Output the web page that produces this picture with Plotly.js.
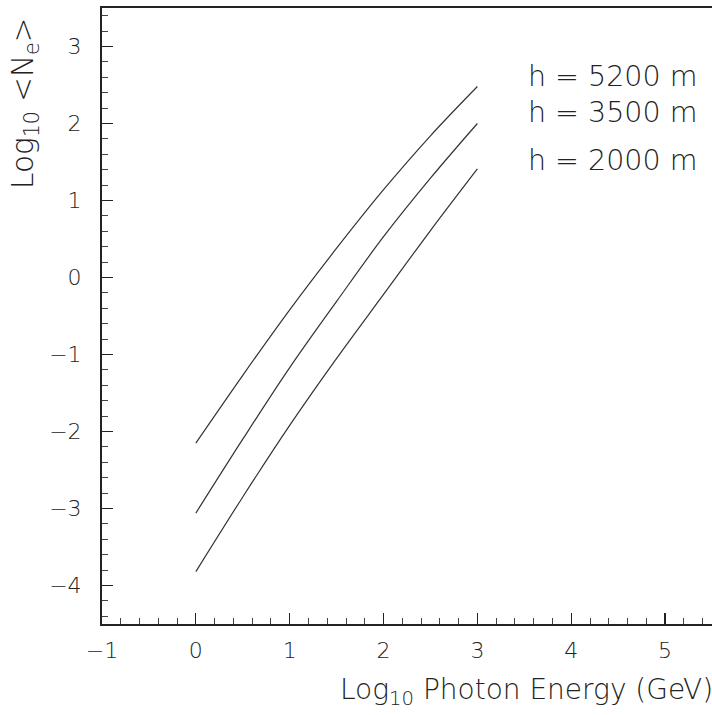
<!DOCTYPE html>
<html>
<head>
<meta charset="utf-8">
<script src="https://cdn.plot.ly/plotly-3.0.1.min.js"></script>
<style>html,body{margin:0;padding:0;background:#fff;}#chart{width:712px;height:715px;}</style>
</head>
<body>
<div id="chart"></div>
<script>
const energyLog = [0, 0.5, 1, 1.5, 2, 2.5, 3];
const ne5200 = [-2.15, -1.27, -0.42, 0.38, 1.14, 1.84, 2.48];
const ne3500 = [-3.06, -2.10, -1.17, -0.31, 0.53, 1.29, 2.0];
const ne2000 = [-3.82, -2.85, -1.92, -1.05, -0.22, 0.61, 1.41];
const seriesLabels = ["h = 5200 m", "h = 3500 m", "h = 2000 m"];

const FONT = "'DejaVu Sans', 'Liberation Sans', sans-serif";
const TXT = '#222';
const lineStyle = {color: '#333', width: 1.2, shape: 'spline'};
const traces = [ne5200, ne3500, ne2000].map((ys, i) => ({
  x: energyLog, y: ys, type: 'scatter', mode: 'lines', line: lineStyle,
  name: seriesLabels[i], hoverinfo: 'skip'
}));

const labelY = [0.888, 0.831, 0.753];
const annotations = seriesLabels.map((t, i) => ({
  text: t, xref: 'paper', yref: 'paper', x: 0.695, y: labelY[i],
  xanchor: 'left', yanchor: 'middle', showarrow: false,
  font: {family: FONT, size: 28.5, color: TXT, weight: 200}
}));
annotations.push({
  text: 'Log<sub>10</sub> <N<sub>e</sub>>', xref: 'paper', yref: 'paper',
  x: -0.126, y: 0.846, xanchor: 'center', yanchor: 'middle', textangle: -90,
  showarrow: false, font: {family: FONT, size: 29.5, color: TXT, weight: 200}
});
annotations.push({
  text: 'Log<sub>10</sub> Photon Energy (GeV)', xref: 'paper', yref: 'paper',
  x: 1.005, y: -0.11, xanchor: 'right', yanchor: 'middle',
  showarrow: false, font: {family: FONT, size: 28, color: TXT, weight: 200}
});

const axisCommon = {
  showgrid: false, zeroline: false, showline: true, linecolor: '#222', linewidth: 2,
  ticks: 'inside', ticklen: 11, tickwidth: 1.2, tickcolor: '#222', dtick: 1,
  tickfont: {family: FONT, size: 22, color: TXT, weight: 200},
  minor: {ticks: 'inside', ticklen: 6, tickwidth: 1, tickcolor: '#444', dtick: 0.2}
};

const layout = {
  width: 712, height: 715,
  margin: {l: 102, r: 0, t: 8, b: 91},
  paper_bgcolor: '#fff', plot_bgcolor: '#fff',
  showlegend: false,
  xaxis: Object.assign({}, axisCommon, {range: [-1, 5.5], mirror: true, tick0: 0, ticklabelstandoff: 6}),
  yaxis: Object.assign({}, axisCommon, {range: [-4.5, 3.5], tick0: 0, ticklabelstandoff: 14}),
  annotations: annotations
};

Plotly.newPlot('chart', traces, layout, {displayModeBar: false, staticPlot: true});
</script>
</body>
</html>
